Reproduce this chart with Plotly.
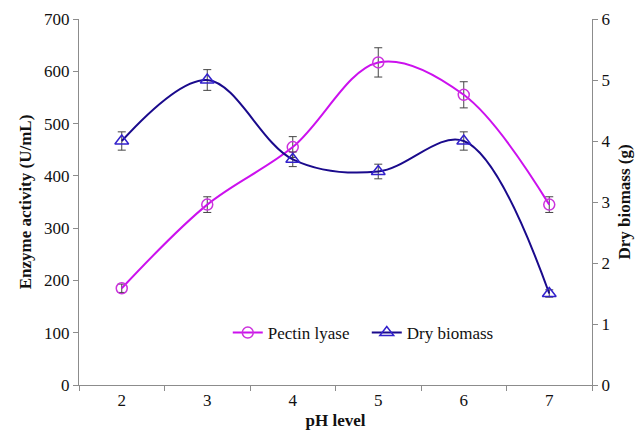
import plotly.graph_objects as go

ph = ["2", "3", "4", "5", "6", "7"]
pectin_lyase = [185, 345, 455, 617, 555, 345]
pectin_err = [8, 15, 20, 28, 25, 15]
dry_biomass = [4.0, 5.0, 3.7, 3.5, 4.0, 1.5]
biomass_err = [0.15, 0.17, 0.12, 0.12, 0.15, 0.06]

font = "Liberation Serif, Times New Roman, serif"

fig = go.Figure()
fig.add_trace(go.Scatter(
    x=ph, y=pectin_lyase, name="Pectin lyase", mode="lines+markers",
    line=dict(color="#CC11EE", width=2, shape="spline", smoothing=1),
    marker=dict(symbol="circle-open", size=11, color="#CC33DD", line=dict(width=1.5)),
    error_y=dict(type="data", array=pectin_err, color="#444444", thickness=1, width=4),
    yaxis="y"))
fig.add_trace(go.Scatter(
    x=ph, y=dry_biomass, name="Dry biomass", mode="lines+markers",
    line=dict(color="#1A0A8C", width=2, shape="spline", smoothing=1),
    marker=dict(symbol="triangle-up-open", size=12, color="#3322CC", line=dict(width=1.5)),
    error_y=dict(type="data", array=biomass_err, color="#444444", thickness=1, width=4),
    yaxis="y2"))

axis_common = dict(showline=True, linecolor="#8c8c8c", linewidth=1, ticks="outside",
                   tickcolor="#8c8c8c", ticklen=5, showgrid=False, zeroline=False,
                   automargin=False,
                   tickfont=dict(family=font, size=17, color="#111"))

fig.update_layout(
    width=640, height=440,
    margin=dict(l=79, r=48, t=19, b=55),
    paper_bgcolor="white", plot_bgcolor="white",
    font=dict(family=font, size=17, color="#111"),
    xaxis=dict(type="category", range=[-0.5, 5.5], tickson="boundaries",
               title=dict(text="<b>pH level</b>", font=dict(family=font, size=17), standoff=4),
               **axis_common),
    yaxis=dict(range=[0, 700], dtick=100,
               title=dict(text="<b>Enzyme activity (U/mL)</b>", font=dict(family=font, size=17), standoff=8),
               **axis_common),
    yaxis2=dict(range=[0, 6], dtick=1, overlaying="y", side="right",
                title=dict(text="<b>Dry biomass (g)</b>", font=dict(family=font, size=17), standoff=8),
                **axis_common),
    legend=dict(orientation="h", x=0.29, y=0.142, xanchor="left", yanchor="middle",
                entrywidth=94, entrywidthmode="pixels",
                bgcolor="rgba(0,0,0,0)", font=dict(family=font, size=17, color="#111")),
    showlegend=True,
)

fig.write_html("out.html", config={"displayModeBar": False},
               post_script="document.body.style.margin='0';document.body.style.padding='0';")
